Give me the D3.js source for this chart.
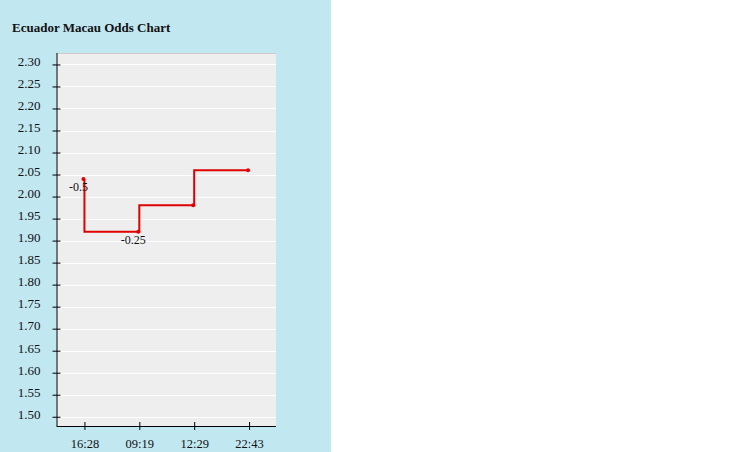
<!DOCTYPE html>
<html><head><meta charset="utf-8">
<script src="https://cdn.jsdelivr.net/npm/d3@7"></script>
<style>
html,body{margin:0;padding:0;background:#fff;}
svg{display:block;}
</style></head>
<body>
<svg id="c" width="734" height="452"></svg>
<script>
const times = ["16:28", "09:19", "12:29", "22:43"];
const odds = [2.04, 1.92, 1.98, 2.06];
const handicapLabels = ["-0.5", "-0.25", "", ""];
const yTicks = [1.50,1.55,1.60,1.65,1.70,1.75,1.80,1.85,1.90,1.95,2.00,2.05,2.10,2.15,2.20,2.25,2.30];
const title = "Ecuador Macau Odds Chart";

const svg = d3.select("#c");
svg.append("rect").attr("x",0).attr("y",0).attr("width",331).attr("height",452).attr("fill","#c1e7f1");
svg.append("text").attr("x",12).attr("y",32).attr("font-family","'Liberation Serif', serif")
  .attr("font-weight","bold").attr("font-size",13).attr("fill","#111").text(title);

const L=56.5, R=276, T=53, B=426;
const x = d3.scalePoint().domain(times).range([L+0.5, R+0.5]).padding(0.5);
const y = d3.scaleLinear().domain([1.479, 2.326]).range([B, T]);

svg.append("rect").attr("x",L).attr("y",T).attr("width",R-L).attr("height",B-T).attr("fill","#eeeeee");
svg.append("line").attr("x1",L).attr("x2",R).attr("y1",T+0.5).attr("y2",T+0.5).attr("stroke","#cccccc");

// grid
svg.append("g").selectAll("line").data(yTicks).join("line")
  .attr("x1",L).attr("x2",R).attr("y1",d=>Math.round(y(d))+0.5).attr("y2",d=>Math.round(y(d))+0.5)
  .attr("stroke","#ffffff").attr("stroke-width",1);

// y axis
const ya = svg.append("g").attr("transform",`translate(${L},0)`)
  .call(d3.axisLeft(y).tickValues(yTicks).tickFormat(d3.format(".2f")).tickSize(4).tickPadding(12).tickSizeOuter(0));
ya.select(".domain").attr("d",`M0.5,${T}V${B}`).attr("stroke","#000");
ya.selectAll(".tick line").attr("x1",4).attr("x2",-4).attr("stroke","#000");
ya.selectAll(".tick text").attr("dy","0.1em").attr("font-family","'Liberation Serif', serif").attr("font-size",13).attr("fill","#111");
ya.attr("font-family",null);

// x axis
const xa = svg.append("g").attr("transform",`translate(0,${B})`)
  .call(d3.axisBottom(x).tickSize(4).tickPadding(9).tickSizeOuter(0));
xa.select(".domain").attr("d",`M${L},0.5H${R}`).attr("stroke","#000");
xa.selectAll(".tick line").attr("y1",-4).attr("y2",4).attr("stroke","#000");
xa.selectAll(".tick text").attr("font-family","'Liberation Serif', serif").attr("font-size",12.5).attr("fill","#111");

const pts = times.map((t,i)=>({t, v:odds[i], lab:handicapLabels[i]}));
const line = d3.line().x(d=>x(d.t)).y(d=>y(d.v)).curve(d3.curveStepBefore);
svg.append("path").datum(pts).attr("d",line).attr("fill","none").attr("stroke","#e00000").attr("stroke-width",2);
svg.append("g").selectAll("circle").data(pts).join("circle")
  .attr("cx",d=>x(d.t)-1).attr("cy",d=>y(d.v)).attr("r",2).attr("fill","#e00000");
svg.append("g").selectAll("text").data(pts.filter(d=>d.lab)).join("text")
  .attr("x",d=>x(d.t)-6).attr("y",d=>y(d.v)+12).attr("text-anchor","middle")
  .attr("font-family","'Liberation Serif', serif").attr("font-size",12).attr("fill","#111").text(d=>d.lab);
</script>
</body></html>
